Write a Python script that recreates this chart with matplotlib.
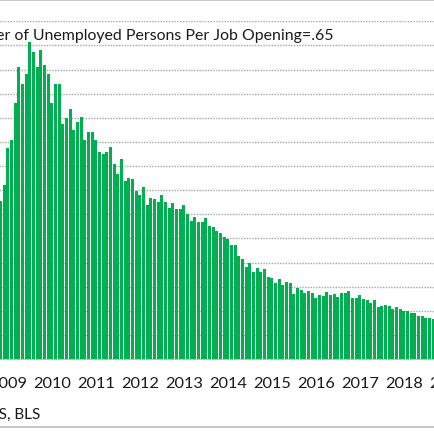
import numpy as np
import matplotlib.pyplot as plt
from matplotlib.lines import Line2D

# unemployed persons per job opening, monthly from Nov 2008 to Sep 2018
ratio = [
    3.28, 3.60, 4.37, 4.53, 5.31, 6.06, 5.71, 5.90, 6.58, 6.37,
    6.06, 6.41, 6.09, 5.90, 5.31, 5.69, 5.69, 4.88, 4.99, 5.19,
    4.74, 4.91, 5.02, 4.53, 4.71, 4.71, 4.53, 4.29, 4.24, 4.29,
    4.39, 4.05, 3.84, 4.15, 3.68, 3.75, 3.73, 3.49, 3.39, 3.56,
    3.19, 3.33, 3.31, 3.26, 3.40, 3.26, 3.12, 3.23, 3.10, 3.11,
    3.20, 3.00, 2.87, 2.95, 2.83, 2.84, 2.93, 2.76, 2.74, 2.65,
    2.62, 2.53, 2.48, 2.37, 2.37, 2.13, 2.08, 1.91, 1.99, 1.80,
    1.89, 1.80, 1.87, 1.70, 1.67, 1.58, 1.65, 1.53, 1.59, 1.58,
    1.35, 1.47, 1.44, 1.37, 1.40, 1.36, 1.27, 1.33, 1.31, 1.39,
    1.32, 1.35, 1.28, 1.37, 1.36, 1.40, 1.27, 1.27, 1.32, 1.24,
    1.22, 1.17, 1.22, 1.08, 1.10, 1.12, 1.10, 1.04, 1.08, 1.04,
    1.00, 1.00, 0.95, 0.95, 0.90, 0.89, 0.86, 0.86, 0.82,
]
years = list(range(2009, 2020))
first_month = 11  # Nov 2008
title = 'Number of Unemployed Persons Per Job Opening=.65'
source = 'Source: JOLTS, BLS'

W = H = 435
fig = plt.figure(figsize=(W / 100, H / 100), dpi=100)
plt.rcParams['font.family'] = ['Lato', 'DejaVu Sans']

# month index -> pixel: 0.5 + 3.667 * i  (the chart is cropped left and right)
px_per_m = 44 / 12
x0, x1 = -4, 124
left_px = 0.5 + px_per_m * x0
right_px = 0.5 + px_per_m * x1
bottom_px, top_px = 360, 22.3
ax = fig.add_axes([left_px / W, 1 - bottom_px / H,
                   (right_px - left_px) / W, (bottom_px - top_px) / H])

x = np.arange(len(ratio))
ax.bar(x, ratio, width=0.78, color='#00B050', zorder=2)
ax.set_xlim(x0, x1)
ax.set_ylim(0, 7)
ax.set_yticks(np.arange(0, 7.01, 0.5))
ax.set_yticklabels([f'{v:.1f}' for v in np.arange(0, 7.01, 0.5)])
ax.yaxis.grid(True, color='#A6A6A6', linestyle=(0, (1, 1)), linewidth=1, zorder=0)
ax.set_axisbelow(True)

jan_idx = [(y - 2008) * 12 - (first_month - 1) for y in years]
ax.set_xticks(jan_idx)
ax.set_xticklabels([str(y) for y in years], fontsize=11.8, color='#1A1A1A')
ax.tick_params(length=0)
ax.tick_params(axis='x', pad=12)
# value labels fall left of the visible area, as in the cropped original
ax.tick_params(axis='y', labelsize=11.8, pad=8)
for s in ['top', 'right', 'left']:
    ax.spines[s].set_visible(False)
ax.spines['bottom'].set_color('#BFBFBF')

fig.text(334 / W, 1 - 36 / H, title, ha='right', va='center',
         fontsize=11.4, color='#1A1A1A')
fig.text(40 / W, 1 - 415 / H, source, ha='right', va='center',
         fontsize=11, color='#1A1A1A')

# chart border (top and bottom edges visible)
for yp in [0.8, 428]:
    fig.add_artist(Line2D([0, 1], [1 - yp / H] * 2, color='#BFBFBF', lw=1.2))

fig.savefig('out.png', dpi=100)
